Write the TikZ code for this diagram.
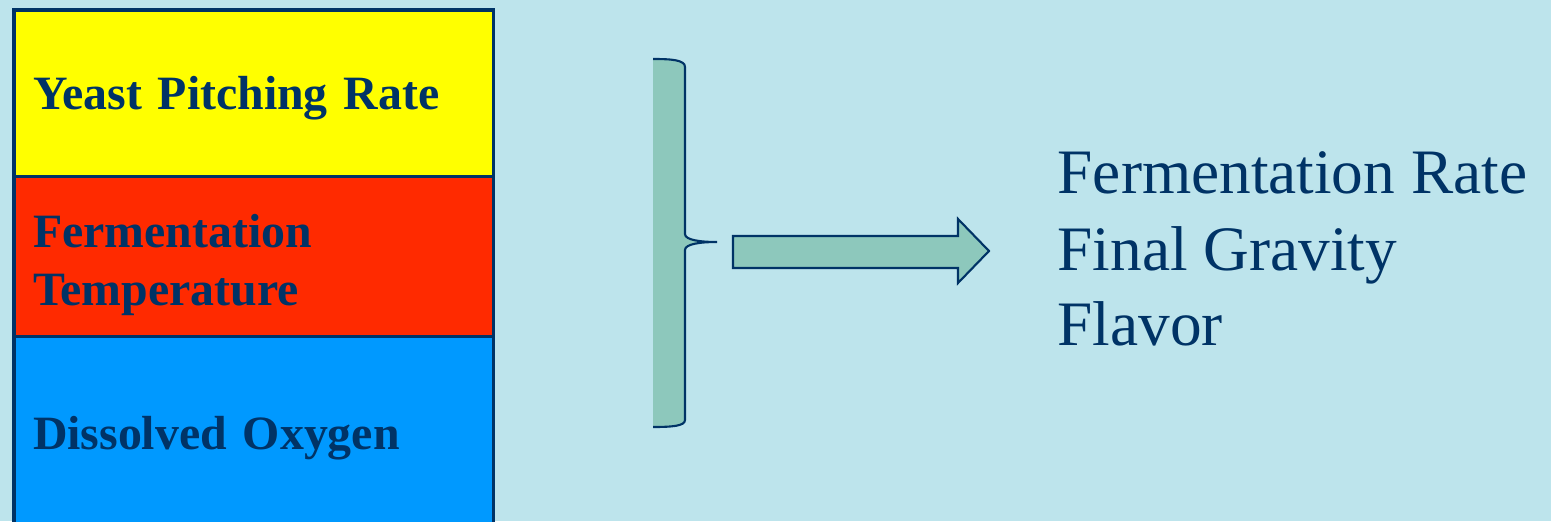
\documentclass[tikz,border=0pt]{standalone}
\usepackage{fontspec}
\setmainfont{Liberation Serif}
\usepackage{tikz}
\usetikzlibrary{positioning}
\definecolor{navyx}{HTML}{003366}
\definecolor{waterx}{HTML}{BDE4EC}
\definecolor{yellowx}{HTML}{FFFF00}
\definecolor{redx}{HTML}{FF2A00}
\definecolor{bluex}{HTML}{0099FF}
\definecolor{tealx}{HTML}{8DC8BC}
\tikzset{
  fbox/.style={draw=navyx,line width=0.9pt,rectangle,minimum width=4.79cm,text width=4.41cm,outer sep=0pt,
    inner xsep=0.19cm,text depth=0pt,align=left,font=\fontsize{13.6}{16.5}\selectfont\bfseries,text=navyx},
  outtxt/.style={anchor=base west,inner sep=0pt,font=\fontsize{18}{21}\selectfont,text=navyx},
  brc/.style={fill=tealx},
  brcline/.style={draw=navyx,line width=0.6pt},
  blockar/.style={fill=tealx,draw=navyx,line width=0.6pt,line join=miter}
}

\begin{document}
\begin{tikzpicture}[x=0.01cm,y=-0.01cm]
\useasboundingbox (0,0) rectangle (1551,521);
\clip (0,0) rectangle (1551,521);
\fill[waterx] (0,0) rectangle (1551,521);
% input factors
\node[fbox,fill=yellowx,minimum height=1.66cm,anchor=north west] (yp) at (14,10) {Yeast Pitching Rate};
\node[fbox,fill=redx,minimum height=1.60cm,text depth=0.5cm,below=0pt of yp] (ft) {Fermentation\\Temperature};
\node[fbox,fill=bluex,minimum height=1.94cm,below=0pt of ft] (dox) {Dissolved Oxygen};
% brace
\fill[brc] (653,59) .. controls (672,59) and (685,60) .. (685,67) -- (685,234)
  .. controls (685,240) and (700,242) .. (717,242) .. controls (700,242) and (685,244) .. (685,250)
  -- (685,420) .. controls (685,426) and (672,427) .. (653,427) -- cycle;
\draw[brcline] (653,59) .. controls (672,59) and (685,60) .. (685,67) -- (685,234)
  .. controls (685,240) and (700,242) .. (717,242) .. controls (700,242) and (685,244) .. (685,250)
  -- (685,420) .. controls (685,426) and (672,427) .. (653,427);
% block arrow
\draw[blockar] (733,236) -- (958,236) -- (958,219) -- (989,251) -- (958,283) -- (958,268) -- (733,268) -- cycle;
% results
\node[outtxt] (r1) at (1057,193) {Fermentation Rate};
\node[outtxt] (r2) at (1057,270) {Final Gravity};
\node[outtxt] (r3) at (1057,345) {Flavor};
\end{tikzpicture}
\end{document}
